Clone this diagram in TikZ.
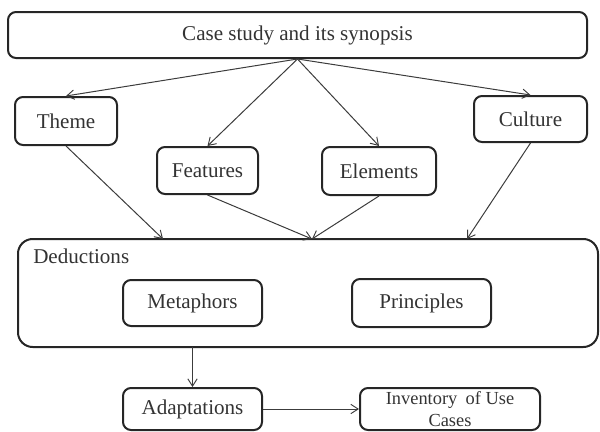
\documentclass[tikz,border=0pt]{standalone}
\usepackage{fontspec}
\setmainfont{Liberation Serif}
\usetikzlibrary{arrows.meta}
\newdimen\pxu \pxu=0.75pt
\definecolor{txt}{HTML}{333333}
\definecolor{edge}{HTML}{262626}
\definecolor{arr}{HTML}{3C3C3C}
\begin{document}
\begin{tikzpicture}[x=0.75pt,y=-0.75pt,
  box/.style={draw=edge,line width=1.5pt,rounded corners=6pt,inner sep=0pt,
    text=txt,font=\fontsize{15.8}{19}\selectfont,align=center},
  conn/.style={draw=arr,line width=0.75pt,-{Straight Barb[length=5.5pt,width=7pt,line width=0.7pt]}}]
\useasboundingbox (0,0) rectangle (600,432);
\node[box,minimum width=579\pxu,minimum height=46\pxu] (top) at (297.5,35) {Case study and its synopsis};
\node[box,minimum width=102\pxu,minimum height=48\pxu] (theme) at (66,121) {Theme};
\node[box,minimum width=113\pxu,minimum height=46\pxu] (culture) at (530.5,119) {Culture};
\node[box,minimum width=101\pxu,minimum height=47\pxu] (features) at (207.5,170.5) {Features};
\node[box,minimum width=114\pxu,minimum height=48\pxu] (elements) at (379,171) {Elements};
\node[box,rounded corners=11pt,minimum width=580\pxu,minimum height=108\pxu] (ded) at (308,293) {};
\node[text=txt,font=\fontsize{15.8}{19}\selectfont,anchor=west,inner sep=0pt] (dedlabel) at (33,256) {Deductions};
\node[box,minimum width=139\pxu,minimum height=46\pxu] (meta) at (192.5,303) {Metaphors};
\node[box,minimum width=139\pxu,minimum height=48\pxu] (princ) at (421.5,303) {Principles};
\node[box,minimum width=139\pxu,minimum height=42\pxu] (adapt) at (192.5,409) {Adaptations};
\node[box,minimum width=180\pxu,minimum height=42\pxu,font=\fontsize{13.8}{17}\selectfont] (inv) at (450,409) {Inventory\hspace{0.2em} of Use\\[-1pt]Cases};
\coordinate (dT) at (163,239);
\coordinate (dM) at (312,239);
\coordinate (dC) at (467,239);
\coordinate (dB) at (192.5,347);
\draw[conn] (top.south) -- (theme.north);
\draw[conn] (top.south) -- (features.north);
\draw[conn] (top.south) -- (elements.north);
\draw[conn] (top.south) -- (culture.north);
\draw[conn] (theme.south) -- (dT);
\draw[conn] (features.south) -- (dM);
\draw[conn] (elements.south) -- (dM);
\draw[conn] (culture.south) -- (dC);
\draw[conn] (dB) -- (adapt.north);
\draw[conn] (adapt.east) -- (inv.west);
\end{tikzpicture}
\end{document}
